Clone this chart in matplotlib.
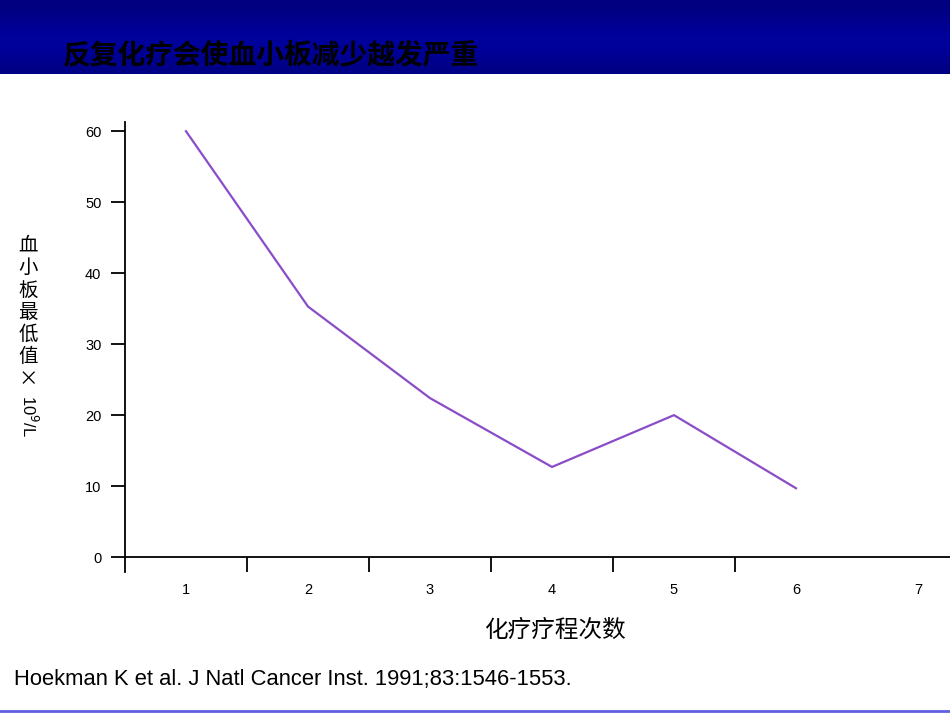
import numpy as np
import matplotlib
matplotlib.use("Agg")
import matplotlib.pyplot as plt

plt.rcParams['font.family'] = ['Liberation Sans', 'Noto Sans CJK SC', 'DejaVu Sans']

# data
cycles = [1, 2, 3, 4, 5, 6]
platelet_min = [60, 35.3, 22.4, 12.7, 20.0, 9.7]
x_labels = ['1', '2', '3', '4', '5', '6', '7']
y_ticks = [0, 10, 20, 30, 40, 50, 60]

title = '反复化疗会使血小板减少越发严重'
xlabel = '化疗疗程次数'
ylabel_cjk = '血\n小\n板\n最\n低\n值\n×'
ylabel_unit = '10$^9$/L'
citation = 'Hoekman K et al. J Natl Cancer Inst. 1991;83:1546-1553.'

W, H = 950, 713
fig = plt.figure(figsize=(W / 100, H / 100), dpi=100)
fig.patch.set_facecolor('white')

# header band with vertical gradient
hdr = fig.add_axes([0, 1 - 74 / H, 1, 74 / H])
grad = np.array([[0, 0, 0.50], [0, 0, 0.56], [0, 0, 0.62], [0, 0, 0.60], [0, 0, 0.52]])
hdr.imshow(grad[:, None, :], aspect='auto', extent=[0, 1, 0, 1], interpolation='bicubic')
hdr.set_axis_off()
hdr.text(63 / W, 0.26, title, transform=hdr.transAxes, fontsize=20, fontweight='bold',
         color='black', family=['Noto Sans CJK SC'], va='center', ha='left')

# thin line at bottom
fig.add_artist(plt.Line2D([0, 1], [1 - 711 / H, 1 - 711 / H], color='#6060e0', lw=2,
                          transform=fig.transFigure))

ax = fig.add_axes([125 / W, 1 - 572 / H, 1 - 125 / W, (572 - 122) / H])
ax.plot(cycles, platelet_min, color='#8a4cc8', lw=1.6)
ax.set_xlim(0.5, 0.5 + (W - 125) / 122)
ax.set_ylim(-2.1, 61.3)
ax.spines['top'].set_visible(False)
ax.spines['right'].set_visible(False)
ax.spines['bottom'].set_position(('data', 0))
ax.spines['left'].set_linewidth(1.3)
ax.spines['bottom'].set_linewidth(1.3)

ax.set_yticks(y_ticks)
ax.set_yticklabels([str(v) for v in y_ticks])
ax.tick_params(axis='y', direction='out', length=10, width=1.3, pad=7, labelsize=10.5)

ax.set_xticks(np.arange(1.5, 6.5, 1))
ax.set_xticklabels([])
ax.set_xticks(np.arange(1, 8), minor=True)
ax.set_xticklabels(x_labels, minor=True)
ax.tick_params(axis='x', which='major', direction='out', length=10.5, width=1.3)
ax.tick_params(axis='x', which='minor', length=0, pad=19, labelsize=10.5)

fig.text(555 / W, 1 - 630 / H, xlabel, fontsize=17, ha='center', va='center',
         family=['Noto Sans CJK SC'])
fig.text(28 / W, 1 - 235 / H, ylabel_cjk, fontsize=14, ha='center', va='top',
         family=['Noto Sans CJK SC'], linespacing=1.08)
fig.text(29 / W, 1 - 395 / H, ylabel_unit, fontsize=12, ha='center', va='top',
         rotation=-90)
fig.text(14 / W, 1 - 680 / H, citation, fontsize=15.8, ha='left', va='center')

fig.savefig('out.png', dpi=100)
